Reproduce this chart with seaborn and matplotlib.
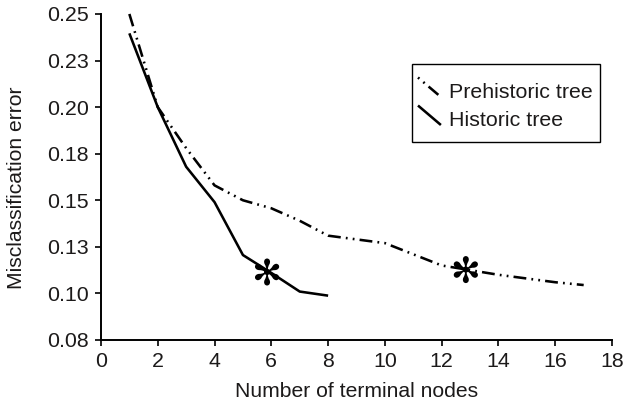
import matplotlib
matplotlib.use("Agg")
import matplotlib.pyplot as plt
import seaborn as sns
import pandas as pd
from matplotlib.legend_handler import HandlerLine2D
from matplotlib.lines import Line2D
from matplotlib.patches import Rectangle

# ---- data ----
pre_nodes = [1, 2, 3, 4, 5, 6, 7, 8, 9, 10, 11, 12, 13, 14, 15, 16, 17]
pre_error = [0.250, 0.200, 0.178, 0.158, 0.150, 0.1457, 0.139, 0.131, 0.129,
             0.127, 0.121, 0.115, 0.1125, 0.110, 0.108, 0.106, 0.1045]
hist_nodes = [1, 2, 3, 4, 5, 6, 7, 8]
hist_error = [0.2396, 0.200, 0.168, 0.149, 0.1206, 0.111, 0.101, 0.0988]
star_x = [5.85, 12.85]
star_y = [0.1115, 0.1128]
y_ticks = [0.075, 0.10, 0.125, 0.15, 0.175, 0.20, 0.225, 0.25]
y_tick_labels = ["0.08", "0.10", "0.13", "0.15", "0.18", "0.20", "0.23", "0.25"]
x_ticks = [0, 2, 4, 6, 8, 10, 12, 14, 16, 18]
series_names = ["Prehistoric tree", "Historic tree"]

sns.set_style("white")
plt.rcParams["font.family"] = ["Liberation Sans", "DejaVu Sans"]
plt.rcParams["lines.solid_capstyle"] = "butt"

TXT = "#1c1a1a"
FS = 15.4

fig = plt.figure(figsize=(6.31, 4.05), dpi=100)
ax = fig.add_axes([0.160, 0.1605, 0.810, 0.805])

pre_df = pd.DataFrame({"nodes": pre_nodes, "error": pre_error})
hist_df = pd.DataFrame({"nodes": hist_nodes, "error": hist_error})

LW = 1.85
dashdotdot = (0, (5.0, 2.0, 0.7, 2.0, 0.7, 2.0))
sns.lineplot(data=pre_df, x="nodes", y="error", ax=ax, color="black",
             linewidth=LW, linestyle=dashdotdot, clip_on=False)
sns.lineplot(data=hist_df, x="nodes", y="error", ax=ax, color="black",
             linewidth=LW, clip_on=False)
star_df = pd.DataFrame({"x": star_x, "y": star_y})
sns.scatterplot(data=star_df, x="x", y="y", ax=ax, marker="$\u273B$",
                s=380, color="black", edgecolor="none", linewidth=0, zorder=5)

ax.set_xlim(0, 18)
ax.set_ylim(0.075, 0.25)
ax.set_xticks(x_ticks)
ax.set_xticklabels([str(t) for t in x_ticks])
ax.set_yticks(y_ticks)
ax.set_yticklabels(y_tick_labels)

for side in ["top", "right"]:
    ax.spines[side].set_visible(False)
for side in ["left", "bottom"]:
    ax.spines[side].set_linewidth(1.4)
    ax.spines[side].set_color("black")
ax.tick_params(axis="both", which="major", direction="out", length=4.3,
               width=1.2, color="black", labelsize=FS, labelcolor=TXT,
               bottom=True, left=True, pad=4.5)

ax.set_xlabel("Number of terminal nodes", fontsize=15.2, color=TXT, labelpad=8)
ax.set_ylabel("Misclassification error", fontsize=15.2, color=TXT, labelpad=8)
ax.yaxis.set_label_coords(-0.147, 0.466)


class HandlerDiag(HandlerLine2D):
    def create_artists(self, legend, orig_handle, xdescent, ydescent,
                       width, height, fontsize, trans):
        line = Line2D([-xdescent, width - xdescent],
                      [height * 1.4 - ydescent, 0.1 * height - ydescent])
        self.update_prop(line, orig_handle, legend)
        line.set_transform(trans)
        return [line]


h_pre = Line2D([], [], color="black", linewidth=LW,
               linestyle=(0, (0.7, 2.0, 0.7, 2.0, 5.0, 2.0)))
h_hist = Line2D([], [], color="black", linewidth=LW)
leg = ax.legend([h_pre, h_hist], series_names, loc="upper left",
                bbox_to_anchor=(418 / 631, 1 - 83.5 / 405),
                bbox_transform=fig.transFigure, fontsize=FS,
                handler_map={Line2D: HandlerDiag()}, handlelength=1.07,
                handleheight=0.7, handletextpad=0.37, labelspacing=0.42,
                borderpad=0, borderaxespad=0, frameon=False)
for t in leg.get_texts():
    t.set_color(TXT)

frame = Rectangle((412 / 631, 1 - 142 / 405), 188 / 631, 78 / 405,
                  transform=fig.transFigure, fill=False, edgecolor="black",
                  linewidth=1.0, zorder=4)
fig.add_artist(frame)

fig.savefig("out.png", dpi=100)
